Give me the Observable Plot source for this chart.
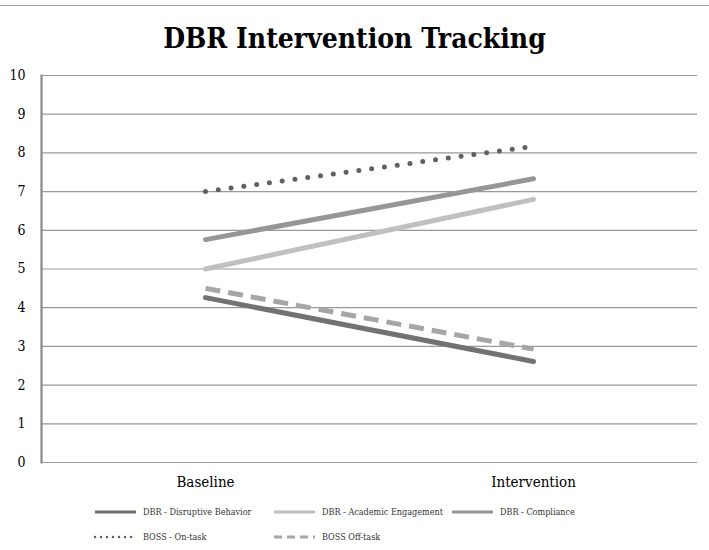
<!DOCTYPE html>
<html>
<head>
<meta charset="utf-8">
<script src="https://cdn.jsdelivr.net/npm/d3@7"></script>
<script src="https://cdn.jsdelivr.net/npm/@observablehq/plot@0.6"></script>
<style>
  body { margin: 0; background: #fff; }
  #wrap { position: relative; width: 709px; height: 550px; overflow: hidden; font-family: "DejaVu Serif Condensed", "DejaVu Serif", serif; }
  #topline { position: absolute; left: 0; top: 5px; width: 709px; height: 0; border-top: 1.5px solid #9a9a9a; }
  #title { position: absolute; left: 0; top: 22px; width: 709px; text-align: center; font-weight: bold; font-size: 28px; color: #000; }
  #chart { position: absolute; left: 0; top: 0; }
  .leg { position: absolute; font-size: 9px; color: #333; display: flex; align-items: center; white-space: nowrap; }
  .leg svg { margin-right: 5px; }
</style>
</head>
<body>
<div id="wrap">
  <div id="topline"></div>
  <div id="title">DBR Intervention Tracking</div>
  <div id="chart"></div>
  <div id="legend"></div>
</div>
<script>
const phases = ["Baseline", "Intervention"];
const seriesNames = ["DBR - Disruptive Behavior", "DBR - Academic Engagement", "DBR - Compliance", "BOSS - On-task", "BOSS Off-task"];
const disruptive = [4.26, 2.61];
const engagement = [5.0, 6.8];
const compliance = [5.76, 7.33];
const onTask = [7.0, 8.17];
const offTask = [4.5, 2.93];
const yTicks = [0, 1, 2, 3, 4, 5, 6, 7, 8, 9, 10];

const styles = [
  {stroke: "#727272", dash: null, cap: "round"},
  {stroke: "#c0c0c0", dash: null, cap: "round"},
  {stroke: "#969696", dash: null, cap: "round"},
  {stroke: "#606060", dash: "0 12.9", cap: "round"},
  {stroke: "#a6a6a6", dash: "15 8", cap: "butt"}
];
const allValues = [disruptive, engagement, compliance, onTask, offTask];

const rows = [];
allValues.forEach((vals, i) => vals.forEach((v, j) => rows.push({series: seriesNames[i], phase: phases[j], value: v})));

const lineMarks = seriesNames.map((name, i) => Plot.line(rows.filter(d => d.series === name), {
  x: "phase", y: "value",
  stroke: styles[i].stroke, strokeWidth: 5,
  strokeDasharray: styles[i].dash, strokeLinecap: styles[i].cap
}));

const chart = Plot.plot({
  width: 709, height: 500,
  marginTop: 75, marginBottom: 38, marginLeft: 41, marginRight: 12,
  style: {fontFamily: "DejaVu Serif Condensed, DejaVu Serif, serif", background: "transparent", overflow: "visible"},
  x: {type: "point", domain: phases, padding: 0.5, label: null},
  y: {domain: [0, 10], ticks: yTicks, label: null},
  marks: [
    Plot.ruleY(yTicks, {stroke: "#999", strokeWidth: 1.2}),
    Plot.frame({anchor: "left", stroke: "#8a8a8a", strokeWidth: 2.2}),
    Plot.axisY({ticks: yTicks, tickSize: 0, tickPadding: 16, fontSize: 14, fill: "#000", tickFormat: d => String(d)}),
    Plot.axisX({tickSize: 0, tickPadding: 14, fontSize: 15, fill: "#000"}),
    ...lineMarks
  ]
});
document.getElementById("chart").appendChild(chart);

// legend
const legPos = [[93, 512], [272, 512], [450, 512], [93, 537], [272, 537]];
const legend = document.getElementById("legend");
seriesNames.forEach((name, i) => {
  const s = styles[i];
  const div = document.createElement("div");
  div.className = "leg";
  div.style.left = legPos[i][0] + "px";
  div.style.top = (legPos[i][1] - 7) + "px";
  const dash = i === 3 ? "0 6" : (i === 4 ? "8 5" : "none");
  const w = i === 3 ? 2.5 : 3;
  div.innerHTML = `<svg width="45" height="14"><line x1="2" x2="43" y1="7" y2="7" stroke="${s.stroke}" stroke-width="${w}" stroke-linecap="${i===3?'round':'butt'}" stroke-dasharray="${dash}"/></svg><span>${name}</span>`;
  legend.appendChild(div);
});
</script>
</body>
</html>
